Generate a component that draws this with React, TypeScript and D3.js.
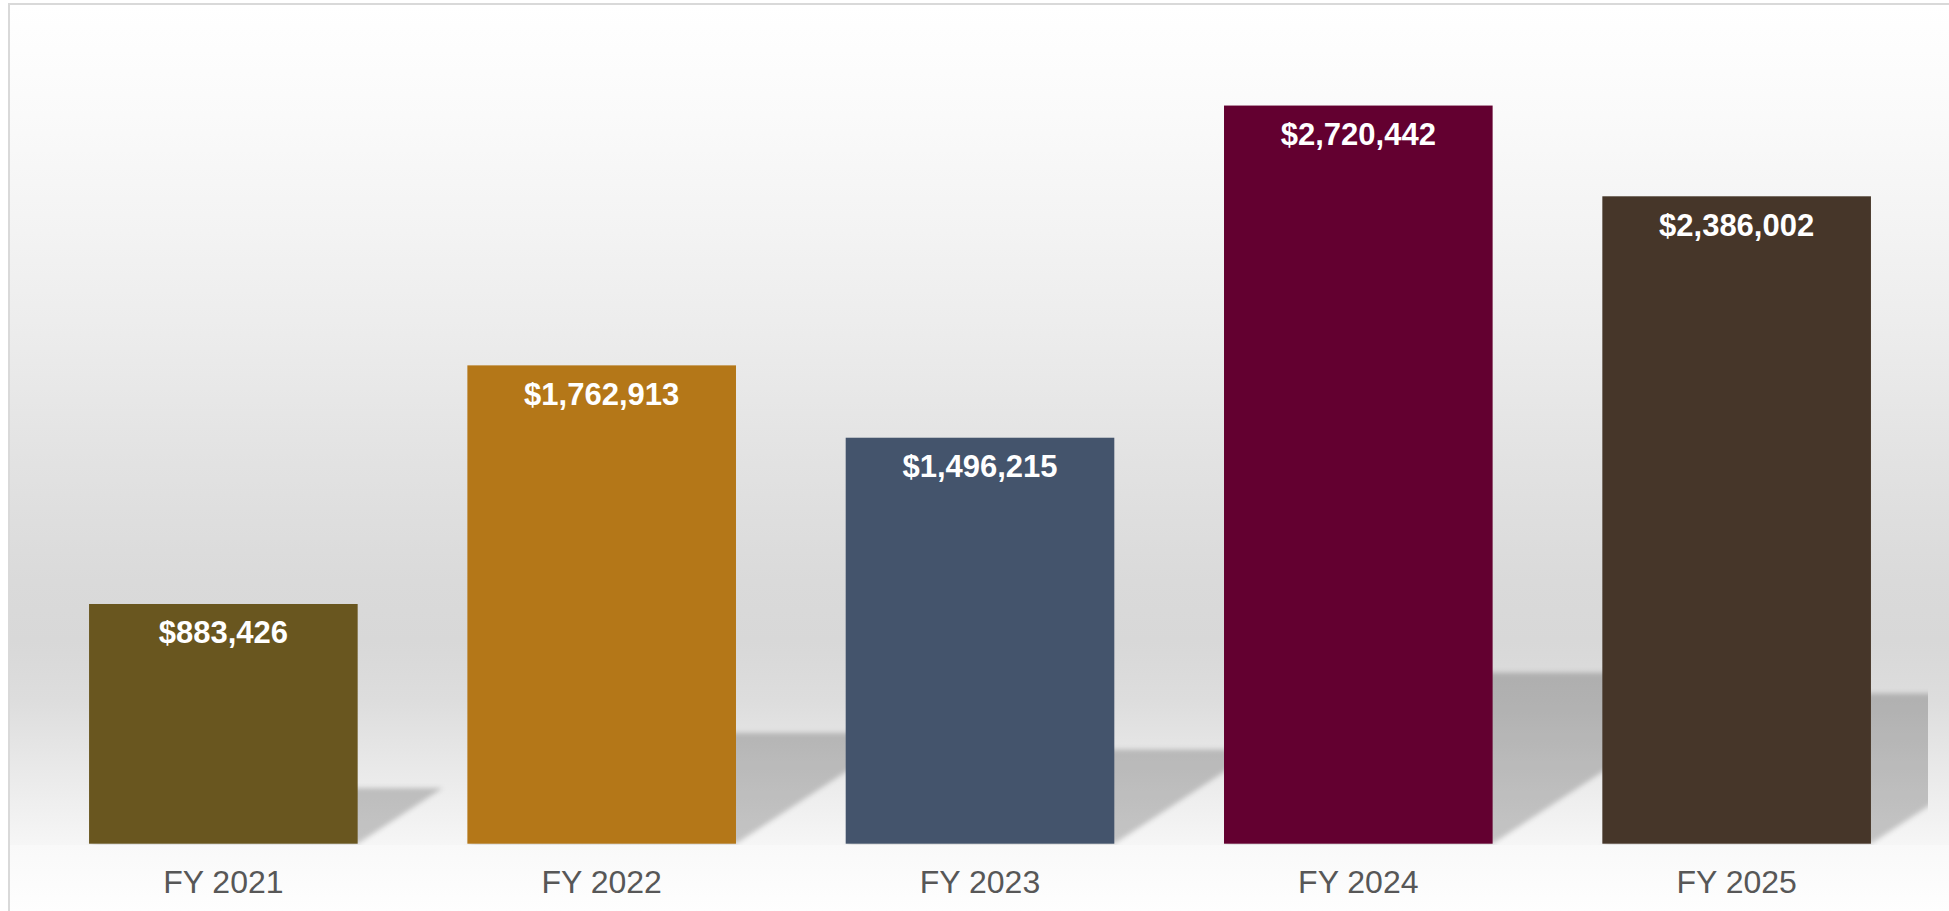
import React from "react";
import * as d3 from "d3";

const categories = ["FY 2021", "FY 2022", "FY 2023", "FY 2024", "FY 2025"];
const values = [883426, 1762913, 1496215, 2720442, 2386002];
const colors = ["#69561f", "#b47718", "#44546c", "#630030", "#463629"];

const W = 1949;
const H = 911;
const plotLeft = 34.2;
const plotRight = 1925.8;
const plotBottom = 843.7;
const plotTop = 29.7;
const yMax = 3000000;

const SHADOW_S = 0.232;
const SHADOW_K = 0.355;

export default function App() {
  const x = d3
    .scaleBand<string>()
    .domain(categories)
    .range([plotLeft, plotRight])
    .paddingInner(0.29)
    .paddingOuter(0.145);
  const y = d3.scaleLinear().domain([0, yMax]).range([plotBottom, plotTop]);
  const fmt = d3.format("$,");
  const font = "'Liberation Sans', Arial, Helvetica, sans-serif";

  const bgStops: [number, string][] = [
    [5, "#ffffff"],
    [116, "#fafafa"],
    [232, "#f3f3f3"],
    [349, "#ebebeb"],
    [465, "#e2e2e2"],
    [581, "#dadada"],
    [640, "#d8d8d8"],
    [700, "#dddddd"],
    [780, "#ebebeb"],
    [845, "#f6f6f6"],
  ];

  return (
    <svg
      width={W}
      height={H}
      style={{ position: "absolute", left: 0, top: 0, display: "block" }}
    >
      <defs>
        <linearGradient id="bg" gradientUnits="userSpaceOnUse" x1={0} y1={5} x2={0} y2={845}>
          {bgStops.map(([yy, c], i) => (
            <stop key={i} offset={(yy - 5) / 840} stopColor={c} />
          ))}
        </linearGradient>
        <linearGradient id="floor" gradientUnits="userSpaceOnUse" x1={0} y1={845} x2={0} y2={911}>
          <stop offset={0} stopColor="#f9f9f9" />
          <stop offset={1} stopColor="#fefefe" />
        </linearGradient>
        <clipPath id="plotClip">
          <rect x={10} y={5} width={1918} height={840} />
        </clipPath>
        <filter id="blur" x="-20%" y="-20%" width="140%" height="140%">
          <feGaussianBlur stdDeviation={2.8} />
        </filter>
      </defs>
      <rect x={0} y={0} width={W} height={H} fill="#ffffff" />
      <rect x={10} y={5} width={W - 10} height={840} fill="url(#bg)" />
      <rect x={10} y={845} width={W - 10} height={H - 845} fill="url(#floor)" />
      <rect x={9} y={4} width={W + 20} height={H + 20} fill="none" stroke="#d9d9d9" strokeWidth={2} />

      <g clipPath="url(#plotClip)">
        <g filter="url(#blur)">
          {categories.map((c, i) => {
            const x0 = x(c)!;
            const x1 = x0 + x.bandwidth();
            const h = y(0) - y(values[i]);
            const dx = h * SHADOW_K;
            const dy = h * SHADOW_S;
            const b = y(0);
            const pts = [
              [x0, b],
              [x1, b],
              [x1 + dx, b - dy],
              [x0 + dx, b - dy],
            ]
              .map((p) => p.join(","))
              .join(" ");
            return <polygon key={c} points={pts} fill="#000" fillOpacity={0.2} />;
          })}
        </g>
      </g>

      {categories.map((c, i) => (
        <rect
          key={c}
          x={x(c)}
          y={y(values[i])}
          width={x.bandwidth()}
          height={y(0) - y(values[i])}
          fill={colors[i]}
        />
      ))}

      {categories.map((c, i) => (
        <text
          key={"v" + c}
          x={x(c)! + x.bandwidth() / 2}
          y={y(values[i]) + 39.5}
          textAnchor="middle"
          fill="#ffffff"
          fontFamily={font}
          fontWeight="bold"
          fontSize={31}
        >
          {fmt(values[i])}
        </text>
      ))}

      {categories.map((c) => (
        <text
          key={"c" + c}
          x={x(c)! + x.bandwidth() / 2}
          y={893.3}
          textAnchor="middle"
          fill="#575757"
          fontFamily={font}
          fontSize={32}
        >
          {c}
        </text>
      ))}
    </svg>
  );
}
